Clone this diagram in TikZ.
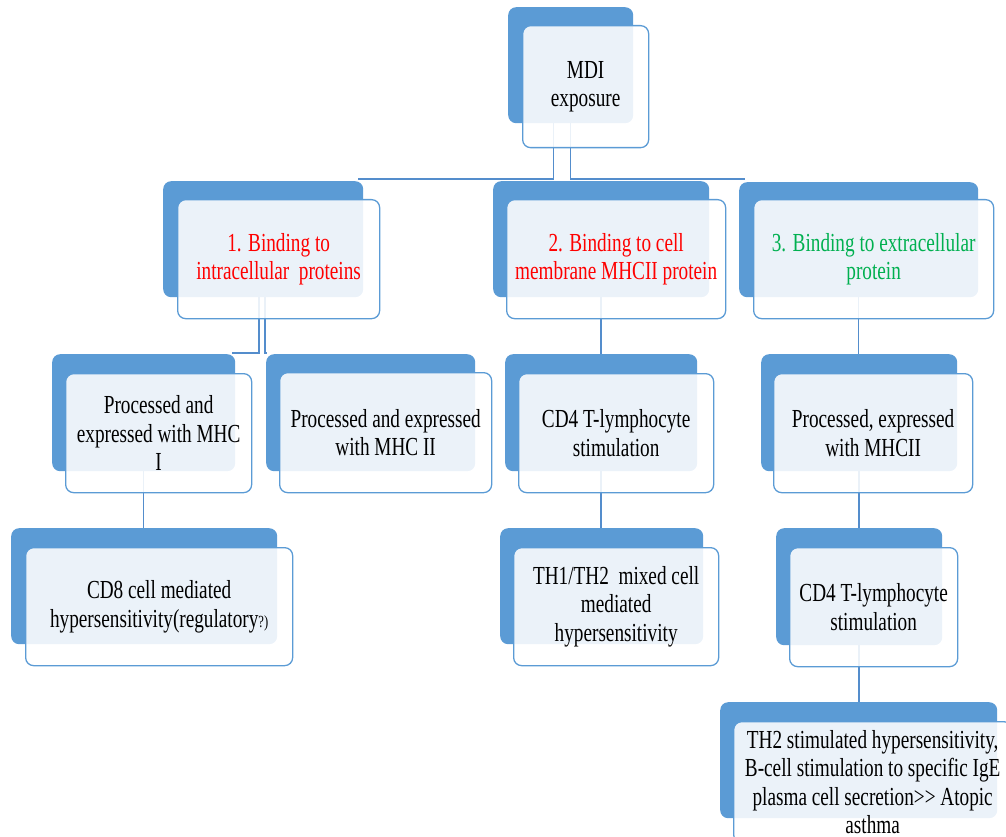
\documentclass[tikz,border=0pt]{standalone}
\usepackage{fontspec}
\setmainfont{Liberation Serif}[FakeStretch=0.74]
\usepackage{xcolor}
\usepackage{tikz}
\usetikzlibrary{positioning}

\definecolor{shadeblue}{RGB}{91,155,213}
\definecolor{linkblue}{RGB}{84,141,204}
\definecolor{bindgreen}{RGB}{0,176,80}

\begin{document}
\begin{tikzpicture}[x=1pt, y=-1pt,
  shade/.style={fill=shadeblue, draw=none, rounded corners=8pt, inner sep=0pt, anchor=north west},
  card/.style={fill=white, fill opacity=0.88, text opacity=1, draw=shadeblue, line width=1.3pt,
    rounded corners=8pt, inner sep=0pt, anchor=north west, align=center,
    font=\fontsize{26}{28.5}\selectfont},
  link/.style={draw=linkblue, line width=1.5pt}
]
  \useasboundingbox (0,0) rectangle (1006,837);
  \clip (0,0) rectangle (1006,837);

  % ======= back plates =======
  \node[shade, minimum width=125, minimum height=116] (mdi-b)   at (508,7)   {};
  \node[shade, minimum width=200, minimum height=116] (bind1-b) at (163,181) {};
  \node[shade, minimum width=216, minimum height=116] (bind2-b) at (493,181) {};
  \node[shade, minimum width=239, minimum height=115] (bind3-b) at (739,182) {};
  \node[shade, minimum width=183, minimum height=117] (mhc1-b)  at (52,354)  {};
  \node[shade, minimum width=209, minimum height=117] (mhc2-b)  at (266,354) {};
  \node[shade, minimum width=192, minimum height=117] (cd4m-b)  at (505,354) {};
  \node[shade, minimum width=196, minimum height=117] (procr-b) at (761,354) {};
  \node[shade, minimum width=266, minimum height=116] (cd8-b)   at (11,528)  {};
  \node[shade, minimum width=203, minimum height=116] (th12-b)  at (500,528) {};
  \node[shade, minimum width=166, minimum height=117] (cd4r-b)  at (776,528) {};
  \node[shade, minimum width=277, minimum height=116] (th2-b)   at (720,702) {};

  % ======= connectors =======
  \draw[link] ([xshift=-17pt]mdi-b.south) |- ([xshift=-5pt,yshift=2pt]bind1-b.north east);
  \draw[link] (mdi-b.south) |- ([xshift=6pt,yshift=3pt]bind3-b.north west);
  \draw[link] ([xshift=-4pt]bind1-b.south) |- ([xshift=-3pt,yshift=1pt]mhc1-b.north east);
  \draw[link] ([xshift=2pt]bind1-b.south) |- ([xshift=1pt,yshift=1pt]mhc2-b.north west);
  \draw[link] (bind2-b.south) -- (bind2-b.south |- cd4m-b.north);
  \draw[link] (bind3-b.south) -- (bind3-b.south |- procr-b.north);
  \draw[link] (mhc1-b.south) -- (mhc1-b.south |- cd8-b.north);
  \draw[link] (cd4m-b.south) -- (cd4m-b.south |- th12-b.north);
  \draw[link] (procr-b.south) -- (procr-b.south |- cd4r-b.north);
  \draw[link] (cd4r-b.south) -- (cd4r-b.south |- th2-b.north);

  % ======= front cards =======
  \node[card, minimum width=126, minimum height=122] (mdi) at (522,25) {MDI\\exposure};
  \node[card, minimum width=202, minimum height=119, text=red] (bind1) at (177,199)
    {1. Binding to\\intracellular\ \ proteins};
  \node[card, minimum width=219, minimum height=119, text=red] (bind2) at (506,199)
    {2. Binding to cell\\membrane MHCII protein};
  \node[card, minimum width=240, minimum height=119, text=bindgreen] (bind3) at (753,199)
    {3. Binding to extracellular\\protein};

  \node[card, minimum width=186, minimum height=119] (mhc1) at (65,373)
    {Processed and\\expressed with MHC\\I};
  \node[card, minimum width=212, minimum height=120] (mhc2) at (279,372)
    {Processed and expressed\\with MHC II};
  \node[card, minimum width=195, minimum height=119] (cd4m) at (518,373)
    {CD4 T-lymphocyte\\stimulation};
  \node[card, minimum width=199, minimum height=119] (procr) at (773,373)
    {Processed, expressed\\with MHCII};

  \node[card, minimum width=267, minimum height=118] (cd8) at (25,547)
    {CD8 cell mediated\\hypersensitivity(regulatory{\fontsize{17}{20}\selectfont?)}};
  \node[card, minimum width=205, minimum height=118] (th12) at (513,547)
    {TH1/TH2\ \ mixed cell\\mediated\\hypersensitivity};
  \node[card, minimum width=168, minimum height=119] (cd4r) at (789,547)
    {CD4 T-lymphocyte\\stimulation};
  \node[card, minimum width=278, minimum height=121] (th2) at (733,721)
    {TH2 stimulated hypersensitivity,\\B-cell stimulation to specific IgE\\plasma cell secretion>{}> Atopic\\asthma};

\end{tikzpicture}
\end{document}
